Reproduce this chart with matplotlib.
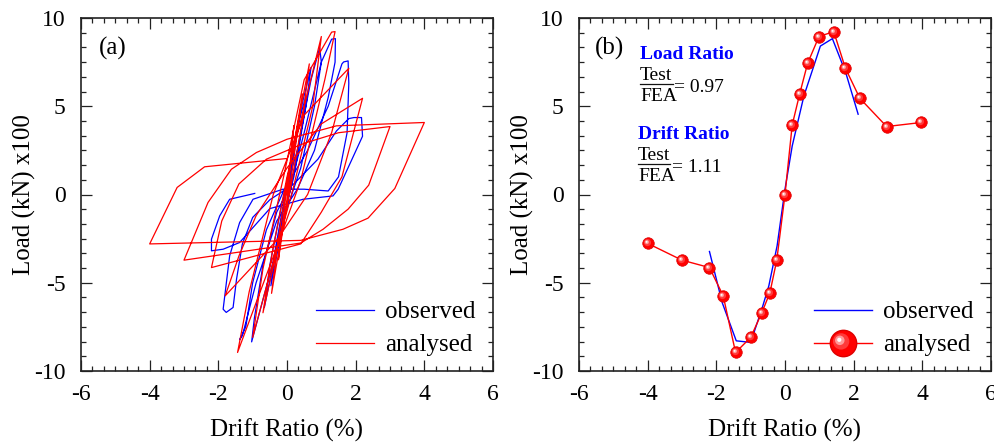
import matplotlib
matplotlib.use("Agg")
import matplotlib.pyplot as plt
from matplotlib.ticker import AutoMinorLocator
from matplotlib.markers import MarkerStyle
from matplotlib.transforms import Affine2D
from matplotlib.lines import Line2D

plt.rcParams["font.family"] = ["Liberation Serif", "DejaVu Serif"]
plt.rcParams["axes.unicode_minus"] = False

# ---------------- (a) cyclic load-drift history ----------------
obs_drift = [0.0, 0.1, 0.21, 0.12, 0.0, -0.23, -0.12, 0.0,
             0.3, 0.55, 0.45, 0.15, -0.1, -0.47, -0.35, -0.1, 0.1,
             0.4, 0.7, 0.55, 0.2, -0.2, -0.66, -0.5, -0.15,
             0.3, 0.7, 0.95, 1.0, 0.8, 0.4, 0.0, -0.5, -1.03, -0.95, -0.7, -0.3, 0.1,
             0.5, 1.0, 1.3, 1.41, 1.4, 1.2, 0.8, 0.3, -0.3, -0.9, -1.3, -1.38, -1.2, -1.0, -0.6, -0.1,
             0.6, 1.2, 1.6, 1.65, 1.78, 1.8, 1.75, 1.5, 1.2, 0.5, -0.12, -0.99, -1.38, -1.67, -1.86,
             -1.77, -1.57, -1.47, -1.3, -1.0, -0.5, 0.2, 0.9, 1.44, 1.8, 1.95, 2.17, 2.2, 1.87, 1.49,
             1.34, 0.47, -0.5, -1.38, -1.86, -2.2, -2.2, -1.96, -1.67, -0.94]
obs_load = [0.0, 1.5, 2.75, 1.0, -0.5, -2.91, -1.0, 0.5,
            3.8, 5.58, 4.0, 0.8, -1.5, -5.17, -3.2, -0.5, 1.0,
            4.8, 7.2, 5.0, 1.0, -2.0, -6.4, -4.0, -0.5,
            2.5, 6.5, 8.32, 7.5, 5.0, 1.5, -0.8, -4.5, -8.35, -7.0, -4.0, -1.0, 0.5,
            3.5, 7.5, 8.8, 8.83, 7.5, 5.5, 2.5, 0.3, -1.5, -5.0, -8.0, -8.23, -7.5, -5.0, -2.0, 0.2,
            2.5, 5.0, 7.4, 7.51, 7.57, 6.3, 3.5, 1.0, 0.2, 0.3, 0.3, -0.27, -1.59, -3.47, -6.5,
            -6.68, -6.4, -4.8, -2.8, -1.3, -0.3, 0.6, 2.0, 3.6, 4.3, 4.36, 4.36, 3.3, 1.9, 0.3,
            -0.08, -0.27, -0.8, -2.72, -3.1, -3.19, -2.53, -1.21, -0.27, 0.06]

fea_drift = [0.0, 0.2, 0.05, -0.05, -0.25, -0.12, 0.0, 0.45,
             0.3, 0.05, -0.45, -0.25, 0.0, 0.65,
             0.45, 0.1, -0.7, -0.45, 0.0, 1.0,
             0.75, 0.2, -1.0, -0.7, -0.1, 0.5, 1.3, 1.4,
             1.1, 0.4, -0.3, -1.44, -1.1, -0.4, 0.5, 1.8,
             1.3, 0.6, -0.3, -1.8, -1.4, -0.9, 0.0, 1.0, 2.2,
             1.6, 1.0, 0.4, -2.2, -1.9, -1.4, -0.6, 0.5, 1.5, 3.0,
             2.38, 1.78, 1.05, 0.4, -3.0, -2.3, -1.62, -0.89, 0.0, 1.44, 4.0,
             3.14, 2.36, 1.63, 0.4, -4.0, -3.2, -2.4, 0.0]
fea_load = [0.0, 3.9, 0.5, -1.0, -3.7, -1.5, 0.5, 5.7,
            3.5, 0.0, -5.6, -2.5, 0.8, 7.4,
            4.2, 0.3, -6.7, -3.5, 1.0, 8.95,
            5.0, 0.5, -8.1, -4.2, 1.0, 6.5, 9.2, 9.23,
            6.5, 0.8, -3.0, -8.95, -5.5, 0.0, 4.5, 7.15,
            3.5, 0.0, -2.6, -5.74, -3.48, -1.2, 1.5, 4.0, 5.45,
            1.0, -1.0, -2.8, -4.14, -1.5, 0.6, 2.0, 2.9, 3.5, 3.85,
            0.53, -0.83, -1.97, -2.75, -3.72, -0.45, 1.43, 2.38, 3.13, 3.89, 4.08,
            0.34, -1.34, -1.97, -2.6, -2.8, 0.4, 1.57, 2.04]

# ---------------- (b) backbone curves ----------------
env_obs_drift = [-2.2, -1.83, -1.42, -1.0, -0.66, -0.47, -0.23, 0.0, 0.21, 0.55,
                 1.03, 1.38, 1.77, 2.13]
env_obs_load = [-3.23, -6.12, -8.29, -8.38, -6.4, -5.17, -2.91, 0.3, 2.75, 5.58,
                8.41, 8.83, 6.9, 4.55]

env_fea_drift = [-4.0, -3.0, -2.2, -1.8, -1.44, -1.0, -0.68, -0.44, -0.24, 0.0,
                 0.21, 0.43, 0.66, 0.99, 1.42, 1.76, 2.18, 2.96, 3.97]
env_fea_load = [-2.77, -3.72, -4.14, -5.74, -8.95, -8.1, -6.72, -5.57, -3.72, 0.0,
                3.94, 5.72, 7.44, 8.95, 9.23, 7.15, 5.45, 3.85, 4.08]

x_ticks = [-6, -4, -2, 0, 2, 4, 6]
y_ticks = [-10, -5, 0, 5, 10]
x_label = "Drift Ratio (%)"
y_label = "Load (kN) x100"
series_names = ["observed", "analysed"]

BLUE = "#0000ff"
RED = "#ff0000"

fig = plt.figure(figsize=(9.95, 4.45), dpi=100)
ax_a = fig.add_axes([81 / 995, 1 - 371 / 445, 412 / 995, 353 / 445])
ax_b = fig.add_axes([579 / 995, 1 - 371 / 445, 412 / 995, 353 / 445])


def style_axes(ax):
    ax.set_xlim(-6, 6)
    ax.set_ylim(-10, 10)
    ax.set_xticks(x_ticks)
    ax.set_yticks(y_ticks)
    ax.xaxis.set_minor_locator(AutoMinorLocator(6))
    ax.yaxis.set_minor_locator(AutoMinorLocator(6))
    ax.tick_params(which="both", direction="in", top=True, right=True,
                   width=0.9, labelsize=17, color="#222222")
    ax.tick_params(which="major", length=8)
    ax.tick_params(which="minor", length=3.8)
    ax.tick_params(axis="x", pad=9)
    ax.tick_params(axis="y", pad=11)
    for s in ax.spines.values():
        s.set_linewidth(1.2)
        s.set_color("#222222")
    ax.set_xlabel(x_label, fontsize=18, labelpad=10)
    ax.set_ylabel(y_label, fontsize=18, labelpad=-1)


for ax in (ax_a, ax_b):
    style_axes(ax)

legend_kw = dict(loc="lower right", frameon=False, fontsize=18, handlelength=2.3,
                 handletextpad=0.45, labelspacing=0.42, borderaxespad=0.3,
                 bbox_to_anchor=(1.0, -0.008))

# panel (a)
ax_a.plot(obs_drift, obs_load, color=BLUE, lw=0.9, label=series_names[0])
ax_a.plot(fea_drift, fea_load, color=RED, lw=0.9, label=series_names[1])
ax_a.text(0.044, 0.915, "(a)", transform=ax_a.transAxes, fontsize=18,
          va="center", ha="left")
ax_a.legend(**legend_kw)

# panel (b): red spheres built from stacked circle markers
sphere_layers = [
    (MarkerStyle("o"), RED, "#dd0000"),
    (MarkerStyle("o", transform=Affine2D().scale(0.62).translate(-0.09, 0.08)), "#ff3a3a", "none"),
    (MarkerStyle("o", transform=Affine2D().scale(0.36).translate(-0.14, 0.12)), "#ff9a9a", "none"),
    (MarkerStyle("o", transform=Affine2D().scale(0.16).translate(-0.16, 0.14)), "#ffffff", "none"),
]

ax_b.plot(env_obs_drift, env_obs_load, color=BLUE, lw=1.0, zorder=2)
ax_b.plot(env_fea_drift, env_fea_load, color=RED, lw=1.0, zorder=3)
for i, (ms, fc, ec) in enumerate(sphere_layers):
    ax_b.plot(env_fea_drift, env_fea_load, ls="none", marker=ms, markersize=8.3,
              markerfacecolor=fc, markeredgecolor=ec, markeredgewidth=0.5,
              zorder=4 + i)

h_obs = Line2D([], [], color=BLUE, lw=1.0)
h_fea = [Line2D([], [], color=RED, lw=1.0, marker=sphere_layers[0][0],
                markersize=19, markerfacecolor=RED, markeredgecolor="#dd0000")]
for ms, fc, ec in sphere_layers[1:]:
    h_fea.append(Line2D([], [], ls="none", marker=ms, markersize=19,
                        markerfacecolor=fc, markeredgecolor=ec))
ax_b.legend([h_obs, tuple(h_fea)], series_names, **legend_kw)

ax_b.text(0.039, 0.915, "(b)", transform=ax_b.transAxes, fontsize=18,
          va="center", ha="left")


def ratio_block(ax, x, y_title, title, value):
    """Bold title followed by a Test/FEA fraction and its value."""
    ax.text(x, y_title, title, transform=ax.transAxes, fontsize=14,
            fontweight="bold", color=BLUE, va="center", ha="left")
    y_bar = y_title - 0.086
    ax.text(x, y_bar + 0.026, "Test", transform=ax.transAxes, fontsize=14,
            va="center", ha="left")
    ax.plot([x, x + 0.079], [y_bar, y_bar], transform=ax.transAxes,
            color="#111111", lw=0.9, clip_on=False)
    ax.text(x, y_bar - 0.034, "FEA", transform=ax.transAxes, fontsize=14,
            va="center", ha="left")
    ax.text(x + 0.082, y_bar - 0.009, "= " + value, transform=ax.transAxes,
            fontsize=14, va="center", ha="left")


ratio_block(ax_b, 0.148, 0.898, "Load Ratio", "0.97")
ratio_block(ax_b, 0.143, 0.671, "Drift Ratio", "1.11")

fig.savefig("out.png", dpi=100)
